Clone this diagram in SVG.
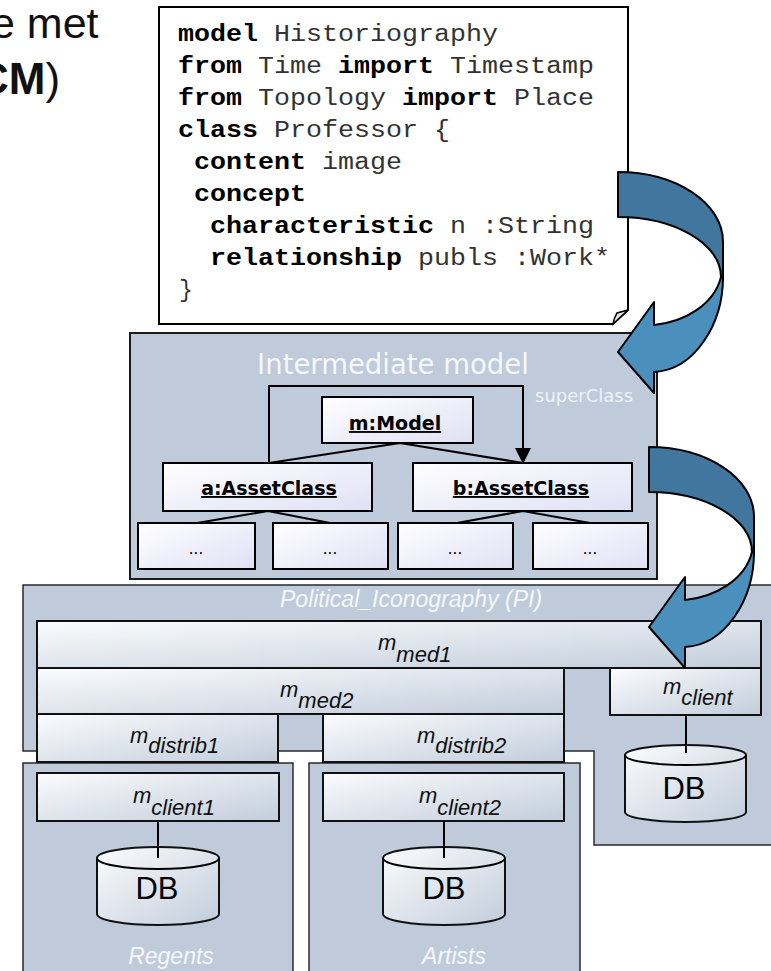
<svg xmlns="http://www.w3.org/2000/svg" width="771" height="971" viewBox="0 0 771 971">
<defs>
<linearGradient id="gNode" x1="0" y1="0" x2="1" y2="1"><stop offset="0" stop-color="#ffffff"/><stop offset="1" stop-color="#e0e0f5"/></linearGradient>
<linearGradient id="gM" x1="0" y1="0" x2="1" y2="1"><stop offset="0" stop-color="#fbfcfd"/><stop offset="1" stop-color="#c2cddb"/></linearGradient>
<marker id="tri" markerWidth="16" markerHeight="16" viewBox="0 0 16 16" refX="15" refY="8" orient="auto" markerUnits="userSpaceOnUse"><path d="M0,0 L16,8 L0,16 Z" fill="#000"/></marker>
<g id="bigArrow">
<path d="M649,447 C707,447 754,478 754,517 L754,555 L752,552 C752,519 706,492 649,492 Z" fill="#41779f" stroke="#000" stroke-width="2" stroke-linejoin="round"/>
<path d="M754,552 C754,600 725,645 685,647 L685,668 L649,627 L685,577 L685,600 C715,597 745,580 752,552 Z" fill="#4b8fbd" stroke="#000" stroke-width="2" stroke-linejoin="round"/>
</g>
</defs>
<style>
.panel{fill:#bfcbda;stroke:#2a2a2a;stroke-width:1.5}
.node{fill:url(#gNode);stroke:#000;stroke-width:2}
.mbox{fill:url(#gM);stroke:#111;stroke-width:2}
.db{fill:url(#gM);stroke:#111;stroke-width:2}
.code{font-family:"Liberation Mono","Courier New",monospace;font-size:23px;fill:#333}
.kw{font-weight:bold;fill:#000}
.im{font-family:"DejaVu Sans",Verdana,sans-serif}
.ml{font-family:"Liberation Sans",Arial,sans-serif;font-style:italic;font-size:22px;fill:#111}
.wl{font-family:"Liberation Sans",Arial,sans-serif;font-style:italic;font-size:23px;fill:#f5f7fa}
.dbt{font-family:"Liberation Sans",Arial,sans-serif;font-size:31px;fill:#000;text-anchor:middle}
.ln{stroke:#000;stroke-width:2;fill:none}
.hd{font-family:"Liberation Sans",Arial,sans-serif;fill:#111}
</style>

<g id="title">
<text class="hd" x="-9" y="38" font-size="43">e met</text>
<text class="hd" x="-23" y="94" font-size="44"><tspan font-weight="bold">CM</tspan>)</text>
</g>

<g id="pi-panel">
<path class="panel" d="M23,585 H775 V845 H594 V751 H23 Z"/>
<text class="wl" x="280" y="607">Political_Iconography (PI)</text>
</g>
<g id="regents">
<rect class="panel" x="23" y="763" width="270" height="220"/>
<text class="wl" x="171" y="964" text-anchor="middle">Regents</text>
</g>
<g id="artists">
<rect class="panel" x="309" y="763" width="271" height="220"/>
<text class="wl" x="454" y="964" text-anchor="middle">Artists</text>
</g>

<g id="m-med1"><rect class="mbox" x="37" y="621" width="724" height="47"/><text class="ml" x="378" y="650">m<tspan dy="12">med1</tspan></text></g>
<g id="m-med2"><rect class="mbox" x="37" y="668" width="527" height="46"/><text class="ml" x="280" y="697">m<tspan dy="11">med2</tspan></text></g>
<g id="m-distrib1"><rect class="mbox" x="37" y="714" width="241" height="48"/><text class="ml" x="130" y="743">m<tspan dy="10">distrib1</tspan></text></g>
<g id="m-distrib2"><rect class="mbox" x="323" y="714" width="241" height="48"/><text class="ml" x="417" y="743">m<tspan dy="10">distrib2</tspan></text></g>
<g id="m-client"><rect class="mbox" x="610" y="668" width="151" height="47"/><text class="ml" x="663" y="694">m<tspan dy="11">client</tspan></text></g>
<g id="m-client1"><rect class="mbox" x="37" y="773" width="242" height="48"/><text class="ml" x="133" y="803">m<tspan dy="12">client1</tspan></text></g>
<g id="m-client2"><rect class="mbox" x="323" y="773" width="241" height="48"/><text class="ml" x="419" y="803">m<tspan dy="12">client2</tspan></text></g>

<g id="db-pi">
<path class="db" d="M625,755 A60.5,10 0 0 1 746,755 V812 A60.5,10 0 0 1 625,812 Z"/>
<path class="ln" d="M625,755 A60.5,10 0 0 0 746,755"/>
<text class="dbt" x="684" y="799">DB</text>
</g>
<g id="db-regents">
<path class="db" d="M97,858 A61,11 0 0 1 219,858 V914 A61,11 0 0 1 97,914 Z"/>
<path class="ln" d="M97,858 A61,11 0 0 0 219,858"/>
<text class="dbt" x="157" y="899">DB</text>
</g>
<g id="db-artists">
<path class="db" d="M383,858 A61,11 0 0 1 505,858 V914 A61,11 0 0 1 383,914 Z"/>
<path class="ln" d="M383,858 A61,11 0 0 0 505,858"/>
<text class="dbt" x="444" y="899">DB</text>
</g>

<g id="code">
<path d="M159,7 H628 V310 L613,324 H159 Z" fill="#fff" stroke="#000" stroke-width="2"/>
<path d="M628,310 L617,313 Q614,318 613,324 Z" fill="#e4e4e4" stroke="#000" stroke-width="1.5"/>
<text class="code" x="178" y="41" textLength="320" lengthAdjust="spacingAndGlyphs"><tspan class="kw">model</tspan> Historiography</text>
<text class="code" x="178" y="73" textLength="416" lengthAdjust="spacingAndGlyphs"><tspan class="kw">from</tspan> Time <tspan class="kw">import</tspan> Timestamp</text>
<text class="code" x="178" y="105" textLength="416" lengthAdjust="spacingAndGlyphs"><tspan class="kw">from</tspan> Topology <tspan class="kw">import</tspan> Place</text>
<text class="code" x="178" y="137" textLength="272" lengthAdjust="spacingAndGlyphs"><tspan class="kw">class</tspan> Professor {</text>
<text class="code" x="194" y="169" textLength="208" lengthAdjust="spacingAndGlyphs"><tspan class="kw">content</tspan> image</text>
<text class="code" x="194" y="201" textLength="112" lengthAdjust="spacingAndGlyphs"><tspan class="kw">concept</tspan></text>
<text class="code" x="210" y="233" textLength="384" lengthAdjust="spacingAndGlyphs"><tspan class="kw">characteristic</tspan> n :String</text>
<text class="code" x="210" y="265" textLength="400" lengthAdjust="spacingAndGlyphs"><tspan class="kw">relationship</tspan> publs :Work*</text>
<text class="code" x="179" y="297">}</text>
</g>

<g id="intermediate">
<rect x="130" y="333" width="527" height="246" fill="#bfcbda" stroke="#1a1a1a" stroke-width="2"/>
<text class="im" x="393" y="374" font-size="27.5" fill="#f5f7fa" text-anchor="middle">Intermediate model</text>
<text class="im" x="535" y="402" font-size="18" fill="#eef2f6">superClass</text>
</g>
<g id="m-model"><rect class="node" x="322" y="397" width="151" height="46"/><text class="im" x="395" y="430" font-size="19" font-weight="bold" text-anchor="middle" text-decoration="underline">m:Model</text></g>
<g id="a-assetclass"><rect class="node" x="163" y="463" width="209" height="48"/><text class="im" x="269" y="495" font-size="19" font-weight="bold" text-anchor="middle" text-decoration="underline">a:AssetClass</text></g>
<g id="b-assetclass"><rect class="node" x="413" y="463" width="219" height="48"/><text class="im" x="521" y="495" font-size="19" font-weight="bold" text-anchor="middle" text-decoration="underline">b:AssetClass</text></g>
<g id="sub1"><rect class="node" x="138" y="523" width="117" height="46"/><text class="im" x="196" y="554" font-size="15" text-anchor="middle">...</text></g>
<g id="sub2"><rect class="node" x="273" y="523" width="115" height="46"/><text class="im" x="330" y="554" font-size="15" text-anchor="middle">...</text></g>
<g id="sub3"><rect class="node" x="398" y="523" width="115" height="46"/><text class="im" x="455" y="554" font-size="15" text-anchor="middle">...</text></g>
<g id="sub4"><rect class="node" x="533" y="523" width="115" height="46"/><text class="im" x="590" y="554" font-size="15" text-anchor="middle">...</text></g>

<g id="connectors">
<path class="ln" d="M400,443 L269,463 M400,443 L523,463"/>
<path class="ln" d="M269,463 V386 H523 V463" marker-end="url(#tri)"/>
<path class="ln" d="M268,511 L197,523 M268,511 L330,523 M523,511 L457,523 M523,511 L590,523"/>
<path class="ln" d="M686,715 V753 M158,821 V858 M444,821 V858"/>
<use href="#bigArrow" transform="translate(-31,-275)"/>
<use href="#bigArrow"/>
</g>
</svg>
